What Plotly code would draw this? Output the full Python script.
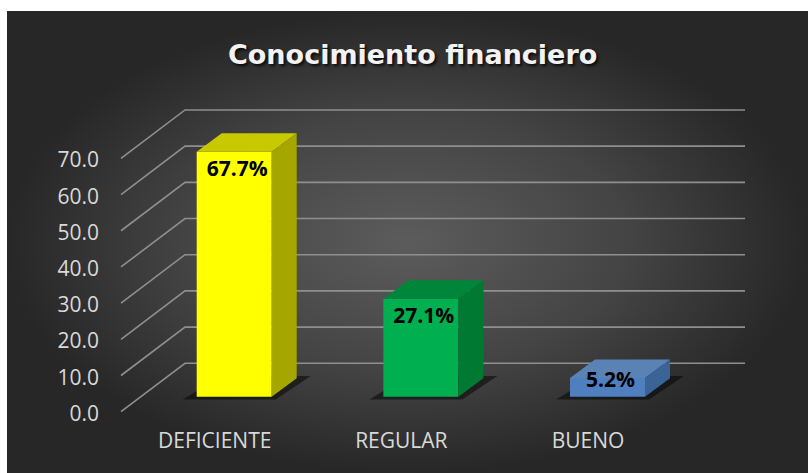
import plotly.graph_objects as go

# ---- data ----
categories = ["DEFICIENTE", "REGULAR", "BUENO"]
values = [67.7, 27.1, 5.2]
value_labels = ["67.7%", "27.1%", "5.2%"]
tick_values = [0, 10, 20, 30, 40, 50, 60, 70]
tick_labels = ["0.0", "10.0", "20.0", "30.0", "40.0", "50.0", "60.0", "70.0"]

front_colors = ["#FFFF00", "#00B050", "#4F7FBF"]
top_colors = ["#C9C900", "#00863B", "#5A82B5"]
side_colors = ["#A6A600", "#007A33", "#3B6496"]

# ---- geometry (axis units) ----
W, H = 808, 473
PX_X = 186.65          # px per category
PX_Y = 3.619           # px per value unit
bar_w = 75 / PX_X
dx = 25 / PX_X         # bar depth in x units
dy = 18.5 / PX_Y       # bar depth in y units
wall_dy = (396.7 - 363.3) / PX_Y
front_dy = (411.7 - 396.7) / PX_Y
ml, mr, mt, mb = 7, 0, 11, 0
x0 = -(234.2 - ml) / PX_X
x1 = x0 + (W - ml - mr) / PX_X
y1 = (396.7 - mt) / PX_Y
y0 = (396.7 - (H - mb)) / PX_Y

def px2x(p):
    return (p - 234.2) / PX_X

fig = go.Figure()

# background with radial gradient
fig.add_trace(go.Scatter(
    x=[x0, x1, x1, x0, x0], y=[y0, y0, y1, y1, y0], mode="lines",
    line=dict(width=0), fill="toself",
    fillgradient=dict(type="radial", colorscale=[[0, "#5c5c5c"], [0.55, "#444444"], [1, "#272727"]]),
    hoverinfo="skip", showlegend=False))

# gridlines (floor diagonal + back wall)
gx, gy = [], []
xf, xb, xe = px2x(121), px2x(185), px2x(745)
for v in tick_values:
    gx += [xf, xb, xe, None]
    gy += [v - front_dy, v + wall_dy, v + wall_dy, None]
fig.add_trace(go.Scatter(x=gx, y=gy, mode="lines", line=dict(color="#8f8f8f", width=1.6),
                         hoverinfo="skip", showlegend=False))

# tick labels
fig.add_trace(go.Scatter(
    x=[px2x(99)] * len(tick_values), y=[v - front_dy - 1.05 for v in tick_values],
    mode="text", text=tick_labels, textposition="middle left",
    textfont=dict(family="Open Sans", size=21, color="#d9d9d9"),
    hoverinfo="skip", showlegend=False))

# shadows
for i, v in enumerate(values):
    xl, xr = i - bar_w / 2, i + bar_w / 2
    fig.add_trace(go.Scatter(
        x=[xl - 14 / PX_X, xr + 4 / PX_X, xr + dx + 14 / PX_X, xl + dx, xl - 14 / PX_X],
        y=[-0.8, -0.8, dy + 0.6, dy + 0.6, -0.8],
        mode="lines", line=dict(width=0), fill="toself", fillcolor="rgba(0,0,0,0.5)",
        hoverinfo="skip", showlegend=False))

# bar faces: front, top, side
for i, v in enumerate(values):
    xl, xr = i - bar_w / 2, i + bar_w / 2
    fig.add_trace(go.Scatter(
        x=[xl, xr, xr, xl, xl], y=[0, 0, v, v, 0],
        mode="lines", line=dict(width=0), fill="toself", fillcolor=front_colors[i],
        hoverinfo="skip", showlegend=False))
    fig.add_trace(go.Scatter(
        x=[xl, xr, xr + dx, xl + dx, xl], y=[v, v, v + dy, v + dy, v],
        mode="lines", line=dict(width=0), fill="toself", fillcolor=top_colors[i],
        hoverinfo="skip", showlegend=False))
    fig.add_trace(go.Scatter(
        x=[xr, xr + dx, xr + dx, xr, xr], y=[0, dy, v + dy, v, 0],
        mode="lines", line=dict(width=0), fill="toself", fillcolor=side_colors[i],
        hoverinfo="skip", showlegend=False))

# data labels
fig.add_trace(go.Scatter(
    x=[i + 0.016 for i in range(len(values))],
    y=[max(v - 5.4, v * 0.8) for v in values],
    mode="text", text=value_labels, textposition="middle center",
    textfont=dict(family="Open Sans", size=21, color="#000000", weight="bold"),
    hoverinfo="skip", showlegend=False))

# category labels
fig.add_trace(go.Scatter(
    x=[i - 19.5 / PX_X for i in range(len(categories))], y=[-12.6] * len(categories),
    mode="text", text=categories, textposition="middle center",
    textfont=dict(family="Open Sans", size=21, color="#d9d9d9"),
    hoverinfo="skip", showlegend=False))

fig.update_layout(
    width=W, height=H, margin=dict(l=ml, r=mr, t=mt, b=mb, pad=0),
    paper_bgcolor="#ffffff", plot_bgcolor="#2a2a2a",
    xaxis=dict(range=[x0, x1], visible=False, fixedrange=True),
    yaxis=dict(range=[y0, y1], visible=False, fixedrange=True),
    showlegend=False,
    annotations=[dict(
        text="<b>Conocimiento financiero</b>", x=409 / W, y=1 - 45 / H,
        xref="paper", yref="paper", showarrow=False, xanchor="center", yanchor="middle",
        font=dict(family="DejaVu Sans", size=27, color="#f2f2f2",
                  shadow="2px 2px 3px rgba(0,0,0,0.8)"))],
)

fig.write_html("out.html", config={"displayModeBar": False},
               post_script="document.body.style.margin='0';document.body.style.overflow='hidden';")
